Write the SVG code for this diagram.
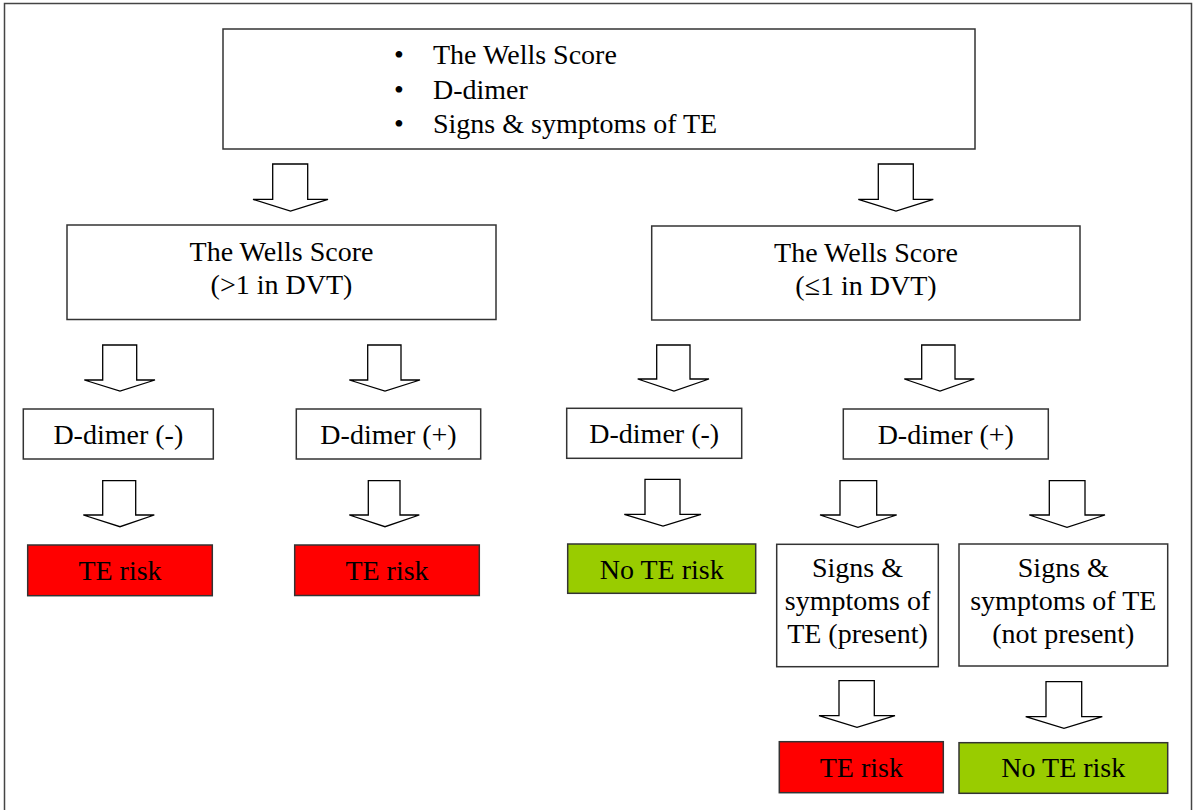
<svg xmlns="http://www.w3.org/2000/svg" width="1193" height="810" viewBox="0 0 1193 810">
<style>
.box{fill:#fff;stroke:#333;stroke-width:1.5}
.red{fill:#ff0000;stroke:#333;stroke-width:1.5}
.green{fill:#99cc00;stroke:#333;stroke-width:1.5}
.arr{fill:#fff;stroke:#000;stroke-width:1.3;stroke-linejoin:miter}
.c{text-anchor:middle}
</style>
<rect x="4.5" y="3.5" width="1187" height="830" fill="#fff" stroke="#444" stroke-width="1.5"/>
<g font-family="Liberation Serif, serif" font-size="28" fill="#000">
<g id="top">
<rect class="box" x="223" y="29" width="752" height="120"/>
<text x="394" y="64">•</text><text x="433" y="64">The Wells Score</text>
<text x="394" y="99">•</text><text x="433" y="99">D-dimer</text>
<text x="394" y="133">•</text><text x="433" y="133">Signs &amp; symptoms of TE</text>
</g>
<g id="wells-high">
<rect class="box" x="67" y="225" width="429" height="94.5"/>
<text class="c" x="281.5" y="261">The Wells Score</text>
<text class="c" x="281.5" y="294">(&gt;1 in DVT)</text>
</g>
<g id="wells-low">
<rect class="box" x="651.7" y="226" width="428.3" height="94"/>
<text class="c" x="866" y="262">The Wells Score</text>
<text class="c" x="866" y="295">(≤1 in DVT)</text>
</g>
<g id="dd-neg-1">
<rect class="box" x="23.3" y="409" width="190" height="50"/>
<text class="c" x="118.3" y="443.5">D-dimer (-)</text>
</g>
<g id="dd-pos-1">
<rect class="box" x="296.3" y="409" width="184.4" height="50"/>
<text class="c" x="388.5" y="443.5">D-dimer (+)</text>
</g>
<g id="dd-neg-2">
<rect class="box" x="566.7" y="408.3" width="175" height="50"/>
<text class="c" x="654.2" y="443">D-dimer (-)</text>
</g>
<g id="dd-pos-2">
<rect class="box" x="843.3" y="409" width="205" height="50"/>
<text class="c" x="945.8" y="443.5">D-dimer (+)</text>
</g>
<g id="te-risk-1">
<rect class="red" x="27.7" y="545" width="184.6" height="50.7"/>
<text class="c" x="120" y="580">TE risk</text>
</g>
<g id="te-risk-2">
<rect class="red" x="294.7" y="545" width="184.6" height="50.5"/>
<text class="c" x="387" y="580">TE risk</text>
</g>
<g id="no-te-risk-1">
<rect class="green" x="567.7" y="544" width="188" height="49.3"/>
<text class="c" x="661.7" y="578.5">No TE risk</text>
</g>
<g id="signs-present">
<rect class="box" x="776.7" y="544.3" width="161.6" height="122.4"/>
<text class="c" x="857.5" y="577">Signs &amp;</text>
<text class="c" x="857.5" y="610">symptoms of</text>
<text class="c" x="857.5" y="643">TE (present)</text>
</g>
<g id="signs-absent">
<rect class="box" x="959" y="544" width="208.7" height="122"/>
<text class="c" x="1063.3" y="577">Signs &amp;</text>
<text class="c" x="1063.3" y="610">symptoms of TE</text>
<text class="c" x="1063.3" y="643">(not present)</text>
</g>
<g id="te-risk-3">
<rect class="red" x="779.3" y="741.7" width="164" height="51"/>
<text class="c" x="861.3" y="777">TE risk</text>
</g>
<g id="no-te-risk-2">
<rect class="green" x="959" y="742.7" width="208.7" height="50.6"/>
<text class="c" x="1063.3" y="777">No TE risk</text>
</g>
</g>
<g id="connectors">
<polygon class="arr" points="272.7,164 307.7,164 307.7,199.3 328,199.3 290.5,211 253,199.3 272.7,199.3"/>
<polygon class="arr" points="878.3,164 913.3,164 913.3,199.3 933.3,199.3 896,211 858.3,199.3 878.3,199.3"/>
<polygon class="arr" points="102.7,345 136.7,345 136.7,380 155,380 120,391 84.3,380 102.7,380"/>
<polygon class="arr" points="367.7,345 401,345 401,380 420,380 385,391 349.3,380 367.7,380"/>
<polygon class="arr" points="656.7,345 690,345 690,379 709,379 674,391 637.7,379 656.7,379"/>
<polygon class="arr" points="921.7,345 955,345 955,379 974.3,379 940,391 904.3,379 921.7,379"/>
<polygon class="arr" points="102.7,480.7 135.7,480.7 135.7,515 154.3,515 120,526.7 83.3,515 102.7,515"/>
<polygon class="arr" points="368.3,480.7 400,480.7 400,515 419.3,515 385,526.7 349.3,515 368.3,515"/>
<polygon class="arr" points="645,479.3 680,479.3 680,514.3 701,514.3 663,526 624.3,514.3 645,514.3"/>
<polygon class="arr" points="840,480.7 876.7,480.7 876.7,515 896.7,515 858,527.3 820,515 840,515"/>
<polygon class="arr" points="1049.3,480.7 1085,480.7 1085,515 1105,515 1067,527.3 1029.3,515 1049.3,515"/>
<polygon class="arr" points="839,680.7 874.3,680.7 874.3,715.7 895,715.7 857,727.3 819,715.7 839,715.7"/>
<polygon class="arr" points="1046,681.7 1081.7,681.7 1081.7,716.7 1102.3,716.7 1064,728.3 1025.7,716.7 1046,716.7"/>
</g>
</svg>
